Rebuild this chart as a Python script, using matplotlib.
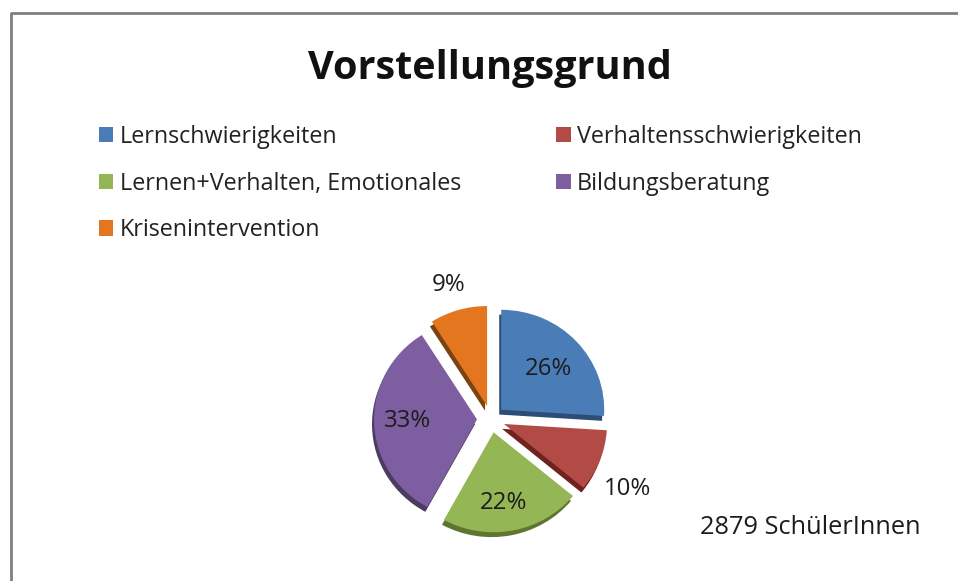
import numpy as np
import matplotlib
matplotlib.use('Agg')
import matplotlib.pyplot as plt
from matplotlib.lines import Line2D

labels = ['Lernschwierigkeiten', 'Verhaltensschwierigkeiten', 'Lernen+Verhalten, Emotionales',
          'Bildungsberatung', 'Krisenintervention']
values = [26, 10, 22, 33, 9]
colors = ['#4A7DB8', '#B24A46', '#94B655', '#7D5EA0', '#E3761F']
dark_colors = ['#2C4D75', '#6E2321', '#5F7530', '#4D3B62', '#7A4310']
label_dist = [0.743, 1.48, 0.815, 0.816, 1.378]
label_nudge = [1.4, 5.5, 2.6, 1.1, -1.8]
total_note = '2879 SchülerInnen'
title = 'Vorstellungsgrund'

plt.rcParams['font.family'] = ['Open Sans', 'DejaVu Sans']

fig = plt.figure(figsize=(9.58, 5.81), dpi=100)

# Kreis etwas gestaucht (3D-Neigung): eigene Achse mit anderer y-Skala
squash = 0.97
ax_pie = fig.add_axes([0, 0, 1, 1])
cx, cy, r = 491, 162, 103
explode = [14] * 5  # in Pixel, da die Achse in Pixeln läuft

# dunkle Kante unten
ax_pie.pie(values, colors=dark_colors, explode=explode, startangle=90, counterclock=False,
           center=(cx - 2, cy / squash - 5), radius=r, frame=True, wedgeprops={'linewidth': 0})
wedges, _ = ax_pie.pie(values, colors=colors, explode=explode, startangle=90, counterclock=False,
                       center=(cx, cy / squash), radius=r, frame=True, wedgeprops={'linewidth': 0})
ax_pie.set_xlim(0, 958)
ax_pie.set_ylim(0, 581 / squash)
ax_pie.set_aspect('auto')
ax_pie.axis('off')

ax = fig.add_axes([0, 0, 1, 1])
ax.set_xlim(0, 958)
ax.set_ylim(0, 581)
ax.axis('off')

# Prozentwerte
label_cx, label_cy = 492, 161
for w, v, d, n in zip(wedges, values, label_dist, label_nudge):
    a = np.deg2rad((w.theta1 + w.theta2) / 2 - n)
    ax.text(label_cx + r * d * np.cos(a), label_cy + r * d * np.sin(a), f'{v}%', fontsize=17.3,
            color='#1c1c1c', ha='center', va='center', zorder=5)

ax.text(490, 512, title, fontsize=28.5, fontweight='bold', color='#111111', ha='center', va='center')
ax.text(810, 53, total_note, fontsize=18.3, color='#1c1c1c', ha='center', va='center')

order = [0, 2, 4, 1, 3]
ax.legend([wedges[i] for i in order], [labels[i] for i in order], ncol=2, frameon=False,
          loc='upper left', bbox_to_anchor=(99 / 958, 1 - 125 / 581), fontsize=16.8,
          labelcolor='#222222', handlelength=0.62, handleheight=0.62, handletextpad=0.27,
          columnspacing=4.08, labelspacing=0.97, borderpad=0, borderaxespad=0)

# Rahmen
fig.add_artist(Line2D([11 / 958, 11 / 958, 1], [0, 1 - 13 / 581, 1 - 13 / 581],
                      color='#808080', linewidth=2))

fig.savefig('out.png', dpi=100)
